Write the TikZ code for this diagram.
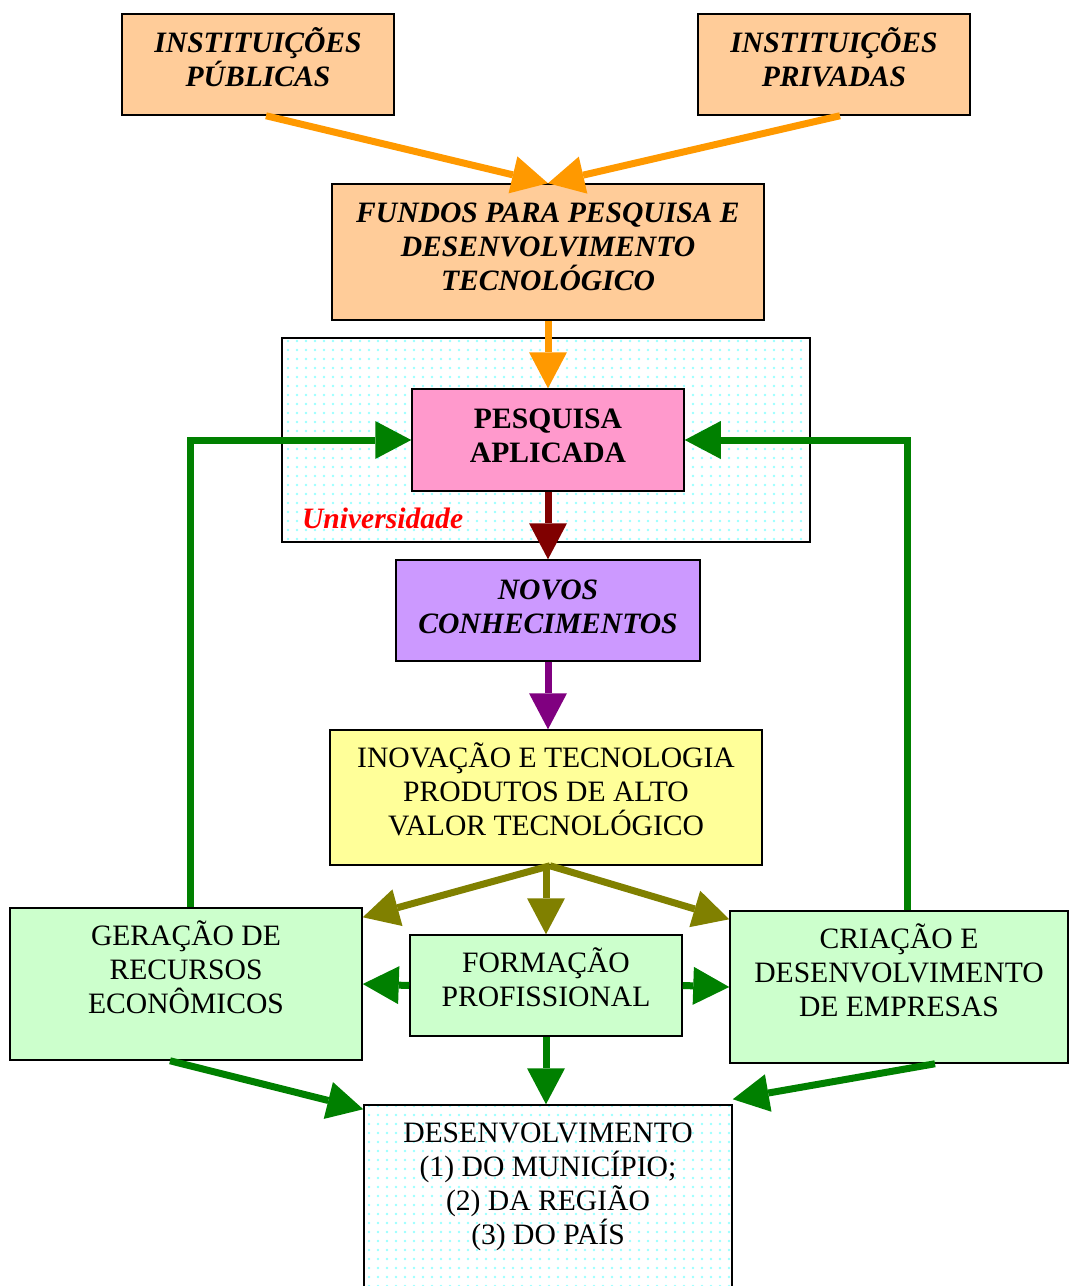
\documentclass[tikz,border=0pt]{standalone}
\usepackage{fontspec}
\setmainfont{Liberation Serif}
\usetikzlibrary{arrows.meta,patterns.meta}

\definecolor{peach}{HTML}{FFCC99}
\definecolor{rosa}{HTML}{FF99CC}
\definecolor{lilas}{HTML}{CC99FF}
\definecolor{amarelo}{HTML}{FFFF99}
\definecolor{verdeclaro}{HTML}{CCFFCC}
\definecolor{laranja}{HTML}{FF9900}
\definecolor{verde}{HTML}{008000}
\definecolor{vinho}{HTML}{800000}
\definecolor{roxo}{HTML}{800080}
\definecolor{oliva}{HTML}{808000}

\tikzset{
  caixa/.style={draw=black, line width=1.5pt, align=center, inner sep=0pt,
    font=\fontsize{29.6}{34}\selectfont},
  negrito/.style={font=\fontsize{29.6}{34}\selectfont\bfseries\itshape},
  pontos/.style={pattern={Dots[distance=9pt,radius=1.3pt]}, pattern color=cyan!40},
  seta/.style={line width=7pt, -{Triangle[length=36pt,width=38pt,line width=0pt]}},
}

\begin{document}
\begin{tikzpicture}[x=1pt,y=-1pt]
\useasboundingbox (0,0) rectangle (1069,1286);

\node[caixa, negrito, fill=peach, minimum width=272pt, minimum height=101pt, text depth=14pt] (pub) at (258,64.5) {INSTITUIÇÕES\\PÚBLICAS};
\node[caixa, negrito, fill=peach, minimum width=272pt, minimum height=101pt, text depth=14pt] (priv) at (834,64.5) {INSTITUIÇÕES\\PRIVADAS};
\node[caixa, negrito, fill=peach, minimum width=432pt, minimum height=136pt, text depth=10pt] (fundos) at (548,252) {FUNDOS PARA PESQUISA E\\DESENVOLVIMENTO\\TECNOLÓGICO};

\node[caixa, fill=white, pontos, minimum width=528pt, minimum height=204pt] (univ) at (546,440) {};
\node[caixa, negrito, draw=none, anchor=west, text=red] (unilbl) at ([xshift=20pt,yshift=24pt]univ.south west) {Universidade};

\node[caixa, fill=rosa, minimum width=272pt, minimum height=102pt, text depth=8pt, font=\fontsize{29.6}{34}\selectfont\bfseries] (pesq) at (548,440) {PESQUISA\\APLICADA};
\node[caixa, negrito, fill=lilas, minimum width=304pt, minimum height=101pt, text depth=8pt] (novos) at (548,610.5) {NOVOS\\CONHECIMENTOS};
\node[caixa, fill=amarelo, minimum width=432pt, minimum height=135pt, text depth=16pt] (inov) at (546,797.5) {INOVAÇÃO E TECNOLOGIA\\PRODUTOS DE ALTO\\VALOR TECNOLÓGICO};

\node[caixa, fill=verdeclaro, minimum width=352pt, minimum height=152pt, text depth=34pt] (ger) at (186,984) {GERAÇÃO DE\\RECURSOS\\ECONÔMICOS};
\node[caixa, fill=verdeclaro, minimum width=272pt, minimum height=101pt, text depth=16pt] (form) at (546,985.5) {FORMAÇÃO\\PROFISSIONAL};
\node[caixa, fill=verdeclaro, minimum width=338pt, minimum height=152pt, text depth=34pt] (cria) at (899,987) {CRIAÇÃO E\\DESENVOLVIMENTO\\DE EMPRESAS};
\node[caixa, fill=white, pontos, minimum width=368pt, minimum height=184pt, text depth=26pt] (des) at (548,1197) {DESENVOLVIMENTO\\(1) DO MUNICÍPIO;\\(2) DA REGIÃO\\(3) DO PAÍS};

\draw[seta, laranja] ([xshift=8pt]pub.south) -- (fundos.north);
\draw[seta, laranja] ([xshift=6pt]priv.south) -- (fundos.north);
\draw[seta, laranja] (fundos.south) -- (pesq.north);

\draw[seta, verde] ([xshift=4pt]ger.north) |- (pesq.west);
\draw[seta, verde] ([xshift=8pt]cria.north) |- (pesq.east);

\draw[seta, vinho] (pesq.south) -- (novos.north);
\draw[seta, roxo] (novos.south) -- (novos.south |- inov.north);

\coordinate (g1) at ([yshift=-10pt]ger.north east);
\coordinate (c1) at ([yshift=-9pt]cria.north west);
\draw[seta, oliva] ([xshift=4pt]inov.south) -- (g1);
\draw[seta, oliva] (inov.south) -- (form.north);
\draw[seta, oliva] ([xshift=4pt]inov.south) -- (c1);

\draw[seta, verde] (form.west) -- (ger.east);
\draw[seta, verde] (form.east) -- (cria.west);
\draw[seta, verde] (form.south) -- (form.south |- des.north);

\coordinate (d1) at ([yshift=-5pt]des.north west);
\coordinate (d2) at ([yshift=5pt]des.north east);
\draw[seta, verde] ([xshift=-16pt]ger.south) -- (d1);
\draw[seta, verde] ([xshift=36pt]cria.south) -- (d2);
\end{tikzpicture}
\end{document}
